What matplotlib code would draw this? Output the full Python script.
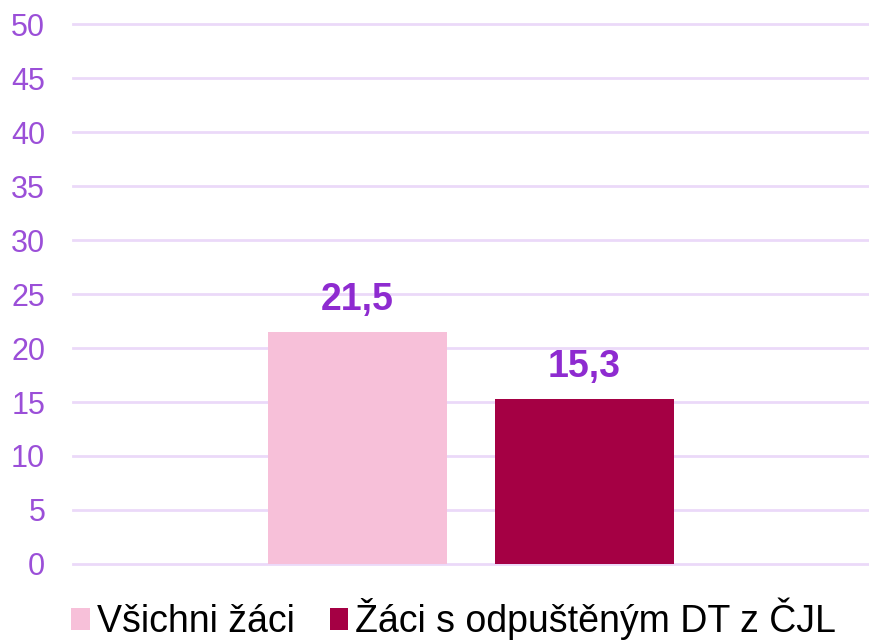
import matplotlib
matplotlib.use("Agg")
import matplotlib.pyplot as plt
import numpy as np

series = ["Všichni žáci", "Žáci s odpuštěným DT z ČJL"]
values = [21.5, 15.3]
labels = ["21,5", "15,3"]
colors = ["#F7C0D9", "#A50044"]
yticks = [0, 5, 10, 15, 20, 25, 30, 35, 40, 45, 50]

plt.rcParams['font.family'] = ['Liberation Sans', 'DejaVu Sans']

fig = plt.figure(figsize=(8.69, 6.42), dpi=100)
ax = fig.add_axes([0.084, 0.1215, 0.916, 0.8411])

width = 0.225
gap = 0.06
offsets = [-(width + gap) / 2, (width + gap) / 2]
handles = []
for off, v, lab, c, s in zip(offsets, values, labels, colors, series):
    b = ax.bar(off, v, width=width, color=c, label=s, zorder=3)
    handles.append(b)
    ax.annotate(lab, (off, v), xytext=(0, 10), textcoords='offset points',
                ha='center', va='bottom', fontsize=27, fontweight='bold',
                color='#8E2BD0')

ax.set_xlim(-0.5, 0.5)
ax.set_ylim(0, 50)
ax.set_yticks(yticks)
ax.set_yticklabels([str(t) for t in yticks])
ax.tick_params(axis='y', length=0, labelsize=22, labelcolor='#9B4FD8', pad=20)
ax.set_xticks([])
for sp in ax.spines.values():
    sp.set_visible(False)
ax.grid(axis='y', color='#EBD9F9', linewidth=2, zorder=0)
ax.set_axisbelow(True)
for gl in ax.get_ygridlines():
    gl.set_clip_on(False)

fig.legend(handles=handles, labels=series, loc='lower center',
           bbox_to_anchor=(0.522, -0.044), ncol=2, frameon=False,
           fontsize=27, handlelength=0.5, handleheight=0.5,
           handletextpad=0.19, columnspacing=0.93, borderpad=0.3)

fig.savefig("out.png", dpi=100)
